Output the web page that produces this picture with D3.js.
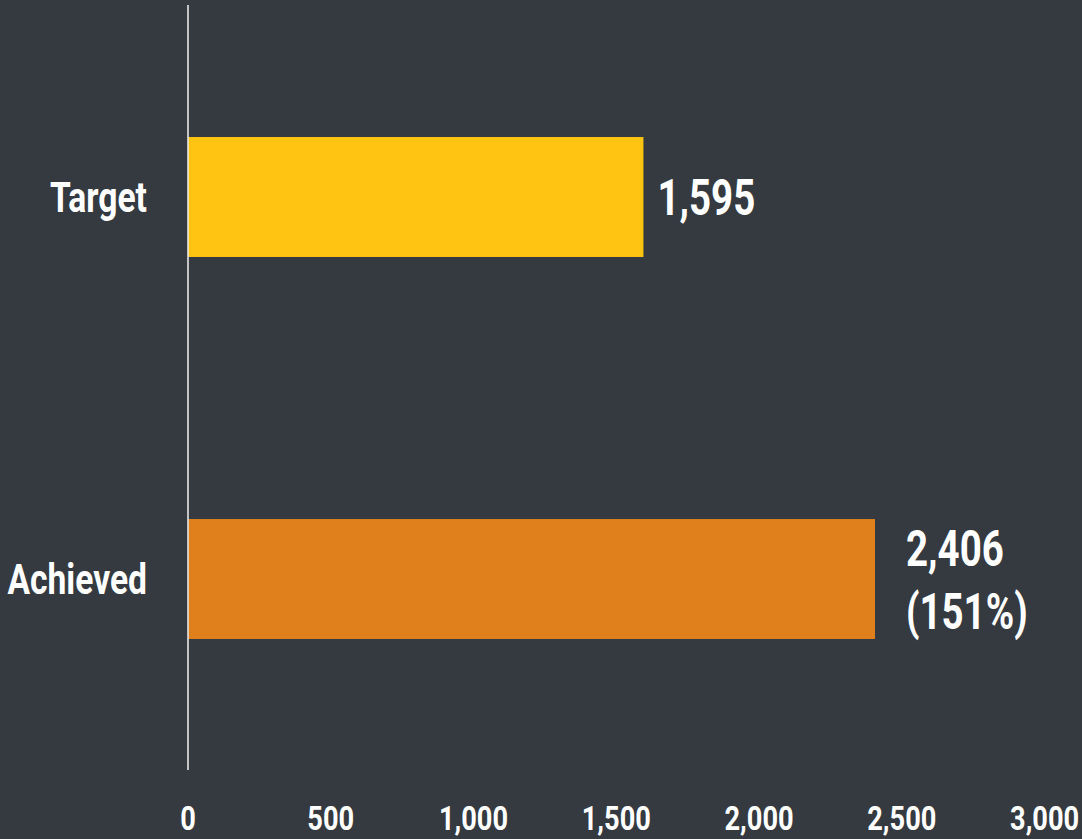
<!DOCTYPE html>
<html>
<head>
<meta charset="utf-8">
<script src="https://cdn.jsdelivr.net/npm/d3@7"></script>
<style>
html,body{margin:0;padding:0;background:#343a40;overflow:hidden;}
text{font-family:Roboto,"Liberation Sans",sans-serif;font-weight:700;fill:#fff;}
</style>
</head>
<body>
<svg id="chart" width="1082" height="839"></svg>
<script>
const categories = ["Target", "Achieved"];
const values = [1595, 2406];
const valueLabels = [["1,595"], ["2,406", "(151%)"]];
const tickValues = [0, 500, 1000, 1500, 2000, 2500, 3000];
const barColors = ["#ffc412", "#e0801d"];

const W = 1082, H = 839;
const svg = d3.select("#chart");
svg.append("rect").attr("width", W).attr("height", H).attr("fill", "#343a40");

const x = d3.scaleLinear().domain([0, 3000]).range([188, 1044.6]);
const y = d3.scaleBand().domain(categories).range([6, 770]).paddingInner(0.686).paddingOuter(0.343);

function squeeze(sel, k) {
  sel.each(function () {
    const w = this.getComputedTextLength();
    d3.select(this).attr("textLength", w * k).attr("lengthAdjust", "spacingAndGlyphs");
  });
}

// bars
svg.selectAll("rect.bar").data(categories).join("rect")
  .attr("class", "bar")
  .attr("x", x(0))
  .attr("y", d => y(d))
  .attr("width", (d, i) => x(values[i]) - x(0))
  .attr("height", y.bandwidth())
  .attr("fill", (d, i) => barColors[i]);

// vertical axis line
svg.append("line")
  .attr("x1", x(0)).attr("x2", x(0))
  .attr("y1", 5).attr("y2", 770)
  .attr("stroke", "#e6e6e6").attr("stroke-width", 1.6);

// category labels
const catLabels = svg.selectAll("text.cat").data(categories).join("text")
  .attr("class", "cat")
  .attr("x", 147)
  .attr("y", d => y(d) + y.bandwidth() / 2 + 15)
  .attr("text-anchor", "end")
  .attr("font-size", 42)
  .text(d => d);
squeeze(catLabels, 0.8);

// value labels
categories.forEach((c, i) => {
  const lines = valueLabels[i];
  const cy = y(c) + y.bandwidth() / 2;
  const lh = 63;
  const startY = cy + 18 - (lines.length - 1) * lh / 2;
  lines.forEach((t, j) => {
    const tx = svg.append("text")
      .attr("class", "val")
      .attr("x", x(values[i]) + (lines.length > 1 ? 31 : 14))
      .attr("y", startY + j * lh)
      .attr("font-size", 50)
      .text(t);
    squeeze(tx, 0.77);
  });
});

// x axis tick labels
const fmt = d3.format(",");
const ticks = svg.selectAll("text.tick").data(tickValues).join("text")
  .attr("class", "tick")
  .attr("x", d => x(d))
  .attr("y", 830)
  .attr("text-anchor", "middle")
  .attr("font-size", 34)
  .text(d => fmt(d));
squeeze(ticks, 0.8);
</script>
</body>
</html>
